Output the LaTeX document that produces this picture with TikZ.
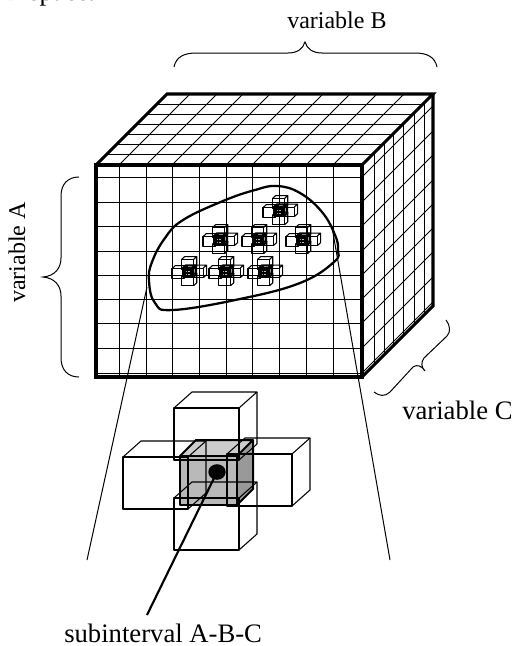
\documentclass[tikz,border=0pt]{standalone}
\usepackage{fontspec}
\setmainfont{Liberation Serif}
\usetikzlibrary{calc}

\begin{document}
\begin{tikzpicture}[x=0.75pt, y=-0.75pt,
    every pic/.style={transform shape},
    edge/.style={line width=2.3pt, line join=miter},
    gridline/.style={line width=0.7pt},
    wire/.style={line width=0.8pt, line join=round},
    corewire/.style={line width=1.5pt, line join=round},
    brace/.style={line width=0.75pt},
    tlab/.style={font=\fontsize{18}{20}\selectfont, inner sep=0pt},
    biglab/.style={font=\fontsize{20}{22}\selectfont, inner sep=0pt},
    wirebox/.pic={
        \draw[wire] (#1) rectangle ++(65,52);
        \draw[wire] (#1) -- ++(18,-16) -- ++(65,0) -- ++(-18,16);
        \draw[wire] ($(#1)+(83,-16)$) -- ++(0,52) -- ++(-18,16);
    },
    corebox/.pic={
        \fill[gray!55] (-35,-14) rectangle (22,35);
        \fill[gray!40] (-35,-14) -- (-19,-30) -- (38,-30) -- (22,-14) -- cycle;
        \fill[gray!80] (22,-14) -- (38,-30) -- (38,19) -- (22,35) -- cycle;
    },
    corelines/.pic={
        \draw[corewire] (-35,-14) rectangle (22,35);
        \draw[corewire] (-35,-14) -- (-19,-30) -- (38,-30) -- (22,-14);
        \draw[corewire] (38,-30) -- (38,19) -- (22,35);
    },
    cubecross/.pic={
        \pic {corebox};
        \pic {wirebox={-41,-62}};
        \pic {wirebox={-92,-13}};
        \pic {wirebox={12,-16}};
        \pic {wirebox={-41,28}};
        \pic {corelines};
    },
    tinycross/.pic={
        \pic {cubecross};
        \foreach \k in {-21,-7,7}
            \draw[wire] (\k,-14) -- (\k,35);
        \foreach \k in {-2,10,22}
            \draw[wire] (-35,\k) -- (22,\k);
    },
]
    \useasboundingbox (0,0) rectangle (511,646);

    \coordinate (ftl) at (96,165);
    \coordinate (ftr) at (362,165);
    \coordinate (fbr) at (362,377);
    \coordinate (btl) at (167,94);
    \coordinate (btr) at (433,94);
    \coordinate (bbr) at (433,306);

    % grid on the three faces
    \foreach \gx in {119,146,172,199,226,252,279,306,333} {
        \draw[gridline] (\gx,165) -- (\gx,377);
        \draw[gridline] (\gx,165) -- ++(71,-71);
    }
    \foreach \gy in {177,202,226,251,275,299,323,348,373} {
        \draw[gridline] (96,\gy) -- (362,\gy);
        \draw[gridline] (362,\gy) -- ++(71,-71);
    }
    \foreach \gy in {104,114,124,134,144,154}
        \draw[gridline] (261-\gy,\gy) -- (527-\gy,\gy);
    \foreach \gx in {374,384,393,403,414,424}
        \draw[gridline] (\gx,527-\gx) -- (\gx,739-\gx);

    \draw[edge] (ftl) rectangle (fbr);
    \draw[edge] (ftl) -- (btl) -- (btr) -- (ftr);
    \draw[edge] (btr) -- (bbr) -- (fbr);

    % region
    \draw[line width=1.7pt] plot[smooth cycle, tension=0.7] coordinates {
        (149,281) (152,262) (165,238) (183,220) (223,201) (255,190) (277,186)
        (300,193) (322,212) (335,235) (338,250) (334,262) (300,283)
        (240,299) (173,310) (155,303)};

    \foreach \cx/\cy in {280/210, 220/239, 259/239, 303/239, 189/271, 226/271, 265/271}
        \pic[scale=0.185] at (\cx,\cy) {tinycross};

    % enlarged subinterval
    \pic at (215,470) {cubecross};
    \node[circle, fill=black, minimum width=13pt, inner sep=0pt, yscale=0.9] (dot) at (217,472) {};

    \coordinate (leadl) at (147,287);
    \coordinate (endl) at (87,560);
    \coordinate (leadr) at (332,227);
    \coordinate (endr) at (390,560);
    \draw[line width=0.75pt] (leadl) -- (endl);
    \draw[line width=0.75pt] (leadr) -- (endr);

    \coordinate (tail) at (147,615);
    \draw[line width=1.6pt] (dot.center) -- (tail);

    \draw[brace] (174,67) .. controls (176,57) and (184,53) .. (196,53) -- (288,53)
        .. controls (297,53) and (303,49) .. (305,42)
        .. controls (307,49) and (313,53) .. (322,53) -- (415,53)
        .. controls (427,53) and (435,57) .. (437,67);
    \draw[brace] (79,177) .. controls (68,177) and (61,184) .. (61,196) -- (61,258)
        .. controls (61,268) and (55,276) .. (43,277)
        .. controls (55,278) and (61,286) .. (61,296) -- (61,358)
        .. controls (61,370) and (68,377) .. (79,377);
    \draw[brace] (374,392) .. controls (379,396) and (385,397) .. (390,392) -- (413,367)
        .. controls (417,364) and (422,366) .. (425,371)
        .. controls (421,367) and (421,362) .. (424,358) -- (447,336)
        .. controls (451,332) and (450,325) .. (446,320);

    \node[biglab, anchor=base west] (spacelab) at (3,1) {D space.};
    \node[tlab, anchor=base west] (blab) at (287,28) {variable B};
    \node[tlab, anchor=base west, rotate=90] (alab) at (25,303) {variable A};
    \node[biglab, anchor=base west] (clab) at (402,419) {variable C};
    \node[biglab, anchor=base west] (sublab) at (64,642) {subinterval A-B-C};
\end{tikzpicture}
\end{document}
